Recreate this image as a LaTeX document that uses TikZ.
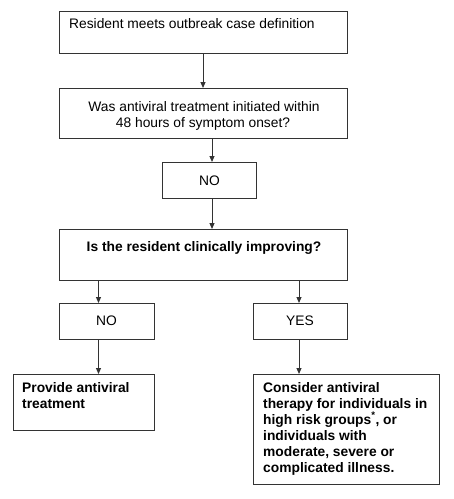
\documentclass[tikz,border=0pt]{standalone}
\usepackage{fontspec}
\setmainfont{Liberation Sans}
\usetikzlibrary{arrows.meta}
\begin{document}
\begin{tikzpicture}[x=1pt,y=-1pt,
  box/.style={draw=black!80, line width=1.2pt, rectangle, inner sep=0pt, anchor=north west},
  txt/.style={inner sep=0pt, font=\fontsize{13.8}{16}\selectfont},
  arr/.style={draw=black!80, line width=1pt, -{Triangle[length=6pt,width=5pt]}}]
\useasboundingbox (0,0) rectangle (454,499);
% boxes
\node[box, minimum width=288pt, minimum height=42pt] (b1) at (59,11) {};
\node[box, minimum width=288pt, minimum height=50pt] (b2) at (59,88) {};
\node[box, minimum width=94pt, minimum height=36pt] (n1) at (162,162) {};
\node[box, minimum width=288pt, minimum height=51pt] (b3) at (59,229) {};
\node[box, minimum width=95pt, minimum height=36pt] (n2) at (59,303) {};
\node[box, minimum width=94pt, minimum height=36pt] (y2) at (253,303) {};
\node[box, minimum width=141pt, minimum height=56pt] (p) at (13,374) {};
\node[box, minimum width=186pt, minimum height=110pt] (c) at (253,374) {};
% texts
\node[txt, anchor=base west] (t1) at (69,28) {Resident meets outbreak case definition};
\node[txt, anchor=base] (t2a) at (204,111) {Was antiviral treatment initiated within};
\node[txt, anchor=base] (t2b) at (203,127) {48 hours of symptom onset?};
\node[txt, anchor=base] (t3) at (209.5,185) {NO};
\node[txt, anchor=base, font=\fontsize{13.8}{16}\selectfont\bfseries] (t4) at (204,251) {Is the resident clinically improving?};
\node[txt, anchor=base] (t5) at (106.5,325) {NO};
\node[txt, anchor=base] (t6) at (300,325) {YES};
\node[txt, anchor=base west, font=\fontsize{13.8}{16}\selectfont\bfseries] (t7a) at (22,392) {Provide antiviral};
\node[txt, anchor=base west, font=\fontsize{13.8}{16}\selectfont\bfseries] (t7b) at (22,408) {treatment};
\foreach \i/\s in {0/{Consider antiviral},1/{therapy for individuals in},2/{high risk groups\textsuperscript{*}, or},3/{individuals with},4/{moderate, severe or},5/{complicated illness.}}
  \node[txt, anchor=base west, font=\fontsize{13.8}{16}\selectfont\bfseries] (t8\i) at (263,392+16*\i) {\s};
% connectors
\coordinate (xa) at (203,0);
\coordinate (xb) at (212,0);
\coordinate (xl) at (98.5,0);
\coordinate (xr) at (299,0);
\draw[arr] (b1.south -| xa) -- (b2.north -| xa);
\draw[arr] (b2.south -| xb) -- (n1.north -| xb);
\draw[arr] (n1.south -| xb) -- (b3.north -| xb);
\draw[arr] (b3.south -| xl) -- (n2.north -| xl);
\draw[arr] (b3.south -| xr) -- (y2.north -| xr);
\draw[arr] (n2.south -| xl) -- (p.north -| xl);
\draw[arr] (y2.south -| xr) -- (c.north -| xr);
\end{tikzpicture}
\end{document}
